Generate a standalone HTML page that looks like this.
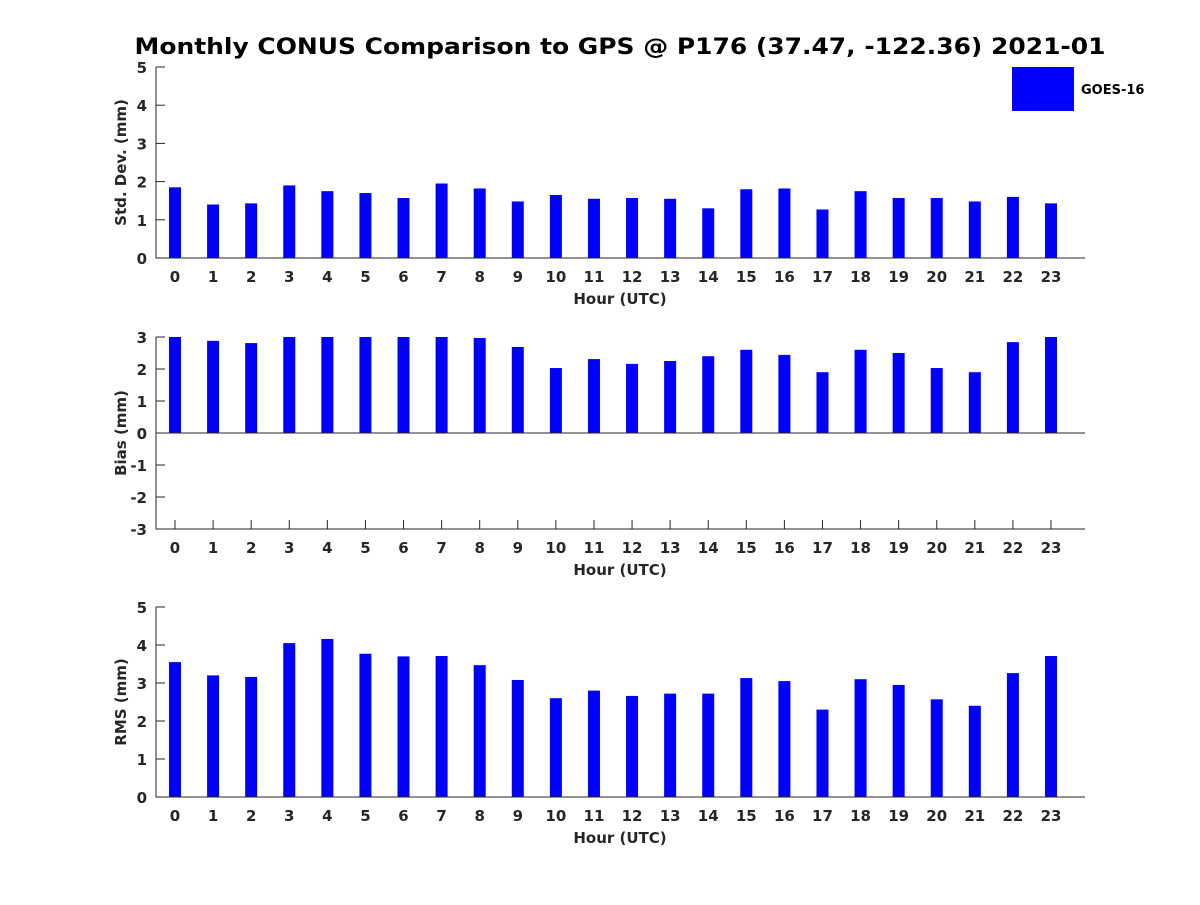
<!DOCTYPE html>
<html><head><meta charset="utf-8"><style>
body{margin:0;background:#fff;}
svg text{font-family:"DejaVu Sans","Liberation Sans",sans-serif;font-weight:bold;fill:#262626;}
</style></head><body>
<svg id="chart" width="1200" height="900" xmlns="http://www.w3.org/2000/svg">
<text x="620" y="54" font-size="22" text-anchor="middle" textLength="971" lengthAdjust="spacingAndGlyphs" style="fill:#000">Monthly CONUS Comparison to GPS @ P176 (37.47, -122.36) 2021-01</text>
<rect x="1012" y="67" width="62" height="44" fill="#0000ff"/>
<text x="1081" y="94" font-size="13" style="fill:#000">GOES-16</text>
</svg>
<script>
const hours = [0,1,2,3,4,5,6,7,8,9,10,11,12,13,14,15,16,17,18,19,20,21,22,23];
const stdDev = [1.85,1.4,1.43,1.9,1.75,1.7,1.57,1.95,1.82,1.48,1.65,1.55,1.57,1.55,1.3,1.8,1.82,1.27,1.75,1.57,1.57,1.48,1.6,1.43];
const bias = [3.0,2.88,2.81,3.0,3.0,3.0,3.0,3.0,2.97,2.69,2.03,2.31,2.16,2.25,2.4,2.6,2.44,1.9,2.6,2.5,2.03,1.9,2.84,3.0];
const rms = [3.55,3.2,3.16,4.05,4.16,3.77,3.7,3.71,3.47,3.08,2.6,2.8,2.66,2.72,2.72,3.13,3.05,2.3,3.1,2.95,2.57,2.4,3.26,3.71];
const stdTicks = [0,1,2,3,4,5];
const biasTicks = [-3,-2,-1,0,1,2,3];
const rmsTicks = [0,1,2,3,4,5];

const svg = document.getElementById('chart');
const NS = 'http://www.w3.org/2000/svg';
function mk(tag, attrs, parent){const e=document.createElementNS(NS,tag);for(const k in attrs)e.setAttribute(k,attrs[k]);(parent||svg).appendChild(e);return e;}
const X0=156, X1=1085;
function xs(h){return 175 + (1051-175)/23*h;}

function panel(name, vals, ticks, top, bottom, ylabel){
  const g = mk('g',{});
  
  
  const ymin=ticks[0], ymax=ticks[ticks.length-1];
  const ys = v => bottom - (v-ymin)/(ymax-ymin)*(bottom-top);
  ticks.forEach(t=>{
    const y=ys(t);
    mk('line',{x1:X0,x2:X0+9,y1:y,y2:y,stroke:'#262626'},g);
    const tx = mk('text',{x:X0-9,y:y+6,'font-size':15,'text-anchor':'end'},g);
    tx.textContent=t;
    
    
  });
  hours.forEach(h=>{
    const x=xs(h);
    mk('line',{x1:x,x2:x,y1:bottom,y2:bottom-9,stroke:'#262626'},g);
    const tx = mk('text',{x:x,y:bottom+24,'font-size':15,'text-anchor':'middle'},g);
    tx.textContent=h;
    
    
  });
  vals.forEach((v,i)=>{
    const y0=ys(0), y1=ys(v);
    const r = mk('rect',{x:xs(hours[i])-6,y:Math.min(y0,y1),width:12,height:Math.abs(y1-y0),fill:'#0000ff'},g);
    
    
  });
  const ax = mk('path',{d:`M${X0},${top}V${bottom}H${X1}`,stroke:'#262626','stroke-width':1,fill:'none'},g);
  
  
  if(ymin<0){
    const z = mk('line',{x1:X0,x2:X1,y1:ys(0),y2:ys(0),stroke:'#262626'},g);
    
    
  }
  const xl = mk('text',{x:620,y:bottom+46,'font-size':15,'text-anchor':'middle'},g);
  xl.textContent='Hour (UTC)';
  
  
  const cy=(top+bottom)/2;
  const yl = mk('text',{x:0,y:0,'font-size':15,'text-anchor':'middle',transform:`translate(126,${cy}) rotate(-90)`},g);
  yl.textContent=ylabel;
  
  
}
panel('std-dev', stdDev, stdTicks, 67, 258, 'Std. Dev. (mm)');
panel('bias', bias, biasTicks, 337, 529, 'Bias (mm)');
panel('rms', rms, rmsTicks, 607, 797, 'RMS (mm)');
</script>
</body></html>
